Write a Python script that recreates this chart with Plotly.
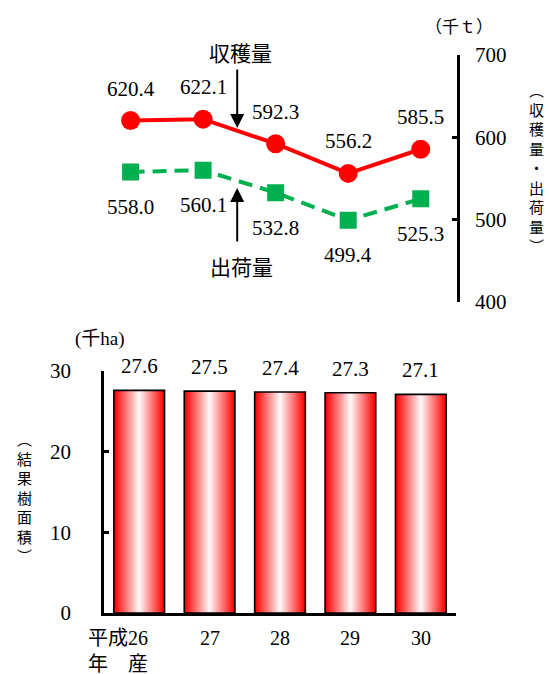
import plotly.graph_objects as go

# ---- data ----
years = ["平成26", "27", "28", "29", "30"]
harvest = [620.4, 622.1, 592.3, 556.2, 585.5]      # 収穫量 (千t)
shipment = [558.0, 560.1, 532.8, 499.4, 525.3]     # 出荷量 (千t)
area = [27.6, 27.5, 27.4, 27.3, 27.1]              # 結果樹面積 (千ha)
top_ticks = [400, 500, 600, 700]
bottom_ticks = [0, 10, 20, 30]

W, H = 549, 674
NUM = "Liberation Serif"
MIXED = "Liberation Serif, Noto Sans CJK JP"
CJK = "Noto Sans CJK JP"
RED = "#FF0000"
GREEN = "#00B050"


def px_x(p):
    return p / W


def px_y(p):
    return 1 - p / H


fig = go.Figure()

# ---- top: harvest / shipment lines ----
fig.add_trace(go.Scatter(
    x=years, y=harvest, mode="lines+markers",
    line=dict(color=RED, width=4),
    marker=dict(symbol="circle", size=19, color=RED),
    xaxis="x", yaxis="y", showlegend=False, hoverinfo="skip"))
fig.add_trace(go.Scatter(
    x=years, y=shipment, mode="lines+markers",
    line=dict(color=GREEN, width=4, dash="14px,8px"),
    marker=dict(symbol="square", size=17, color=GREEN),
    xaxis="x", yaxis="y", showlegend=False, hoverinfo="skip"))

annotations = []
for i, v in enumerate(harvest):
    annotations.append(dict(x=i, y=v, xref="x", yref="y", text=f"{v:.1f}",
                            showarrow=False, yshift=32, xanchor="center",
                            yanchor="middle",
                            font=dict(family=NUM, size=21, color="black")))
for i, v in enumerate(shipment):
    annotations.append(dict(x=i, y=v, xref="x", yref="y", text=f"{v:.1f}",
                            showarrow=False, yshift=-35, xanchor="center",
                            yanchor="middle",
                            font=dict(family=NUM, size=21, color="black")))

# series name arrows
annotations.append(dict(x=1.47, y=611.3, ax=1.47, ay=684.2, xref="x", yref="y",
                        axref="x", ayref="y", text="", showarrow=True,
                        arrowhead=2, arrowsize=1.4, arrowwidth=2, arrowcolor="black"))
annotations.append(dict(x=1.51, y=px_y(52), xref="x", yref="paper", text="収穫量",
                        showarrow=False, xanchor="center", yanchor="middle",
                        font=dict(family=CJK, size=21, color="black")))
annotations.append(dict(x=1.47, y=538.5, ax=1.47, ay=471.7, xref="x", yref="y",
                        axref="x", ayref="y", text="", showarrow=True,
                        arrowhead=2, arrowsize=1.4, arrowwidth=2, arrowcolor="black"))
annotations.append(dict(x=1.53, y=px_y(266), xref="x", yref="paper", text="出荷量",
                        showarrow=False, xanchor="center", yanchor="middle",
                        font=dict(family=CJK, size=21, color="black")))

# ---- bottom: bearing area bars with a horizontal red-white-red shading ----
N = 20
BAR_W = 0.72
for k in range(N):
    t = k / (N - 1)
    g = int(round(244 * t))
    fig.add_trace(go.Bar(
        x=years, y=area, width=BAR_W * (1 - k / N),
        marker=dict(color=f"rgb(255,{g},{g})", line=dict(width=0)),
        xaxis="x2", yaxis="y2", showlegend=False, hoverinfo="skip"))
# outline on top
fig.add_trace(go.Bar(
    x=years, y=area, width=BAR_W,
    marker=dict(color="rgba(0,0,0,0)", line=dict(color="black", width=1.6)),
    xaxis="x2", yaxis="y2", showlegend=False, hoverinfo="skip"))

for i, v in enumerate(area):
    annotations.append(dict(x=i, y=v, xref="x2", yref="y2", text=f"{v:.1f}",
                            showarrow=False, yshift=24, xanchor="center",
                            yanchor="middle",
                            font=dict(family=NUM, size=21, color="black")))

# category labels under the bars
for i, lab in enumerate(years):
    if i == 0:
        annotations.append(dict(x=i, y=px_y(625), xref="x2", yref="paper",
                                text=lab + "<br>年　産", showarrow=False,
                                xanchor="right", yanchor="top", align="left",
                                xshift=11,
                                font=dict(family=MIXED, size=20, color="black")))
    else:
        annotations.append(dict(x=i, y=px_y(625), xref="x2", yref="paper",
                                text=lab, showarrow=False,
                                xanchor="center", yanchor="top",
                                font=dict(family=NUM, size=20, color="black")))

# unit labels
annotations.append(dict(x=px_x(458.5), y=px_y(25), xref="paper", yref="paper",
                        text="（千ｔ）", showarrow=False,
                        xanchor="center", yanchor="middle",
                        font=dict(family=CJK, size=17, color="black")))
annotations.append(dict(x=px_x(100), y=px_y(339), xref="paper", yref="paper",
                        text="(千ha)", showarrow=False,
                        xanchor="center", yanchor="middle",
                        font=dict(family=MIXED, size=19, color="black")))

# vertical axis titles, one character per line
annotations.append(dict(x=px_x(536), y=px_y(168), xref="paper", yref="paper",
                        text="<br>".join("︵収穫量・出荷量︶"), showarrow=False,
                        yanchor="middle", xanchor="center", align="center",
                        font=dict(family=CJK, size=15, color="black")))
annotations.append(dict(x=px_x(24), y=px_y(497), xref="paper", yref="paper",
                        text="<br>".join("︵結果樹面積︶"), showarrow=False,
                        yanchor="middle", xanchor="center", align="center",
                        font=dict(family=CJK, size=15, color="black")))

fig.update_layout(
    width=W, height=H,
    margin=dict(l=0, r=0, t=0, b=0, autoexpand=False),
    paper_bgcolor="white", plot_bgcolor="rgba(0,0,0,0)",
    barmode="overlay", showlegend=False,
    font=dict(family=NUM, size=20, color="black"),
    annotations=annotations,
    xaxis=dict(domain=[px_x(94.3), px_x(457)], range=[-0.5, 4.5],
               type="category", anchor="y", automargin=False,
               visible=False),
    yaxis=dict(domain=[px_y(302), px_y(55)], range=[400, 700],
               side="right", anchor="x", tickvals=top_ticks, automargin=False,
               ticks="inside", ticklen=5, tickwidth=2.5, tickcolor="black",
               showline=True, linewidth=2.5, linecolor="black",
               showgrid=False, zeroline=False, ticklabelstandoff=11,
               tickfont=dict(family=NUM, size=21, color="black")),
    xaxis2=dict(domain=[px_x(104), px_x(456)], range=[-0.5, 4.5],
                type="category", anchor="y2", automargin=False,
                showline=True, linewidth=2.5, linecolor="black",
                ticks="", showticklabels=False, showgrid=False, zeroline=False),
    yaxis2=dict(domain=[px_y(613), px_y(371)], range=[0, 30],
                anchor="x2", tickvals=bottom_ticks, automargin=False,
                ticks="inside", ticklen=5, tickwidth=2.5, tickcolor="black",
                showline=True, linewidth=2.5, linecolor="black",
                showgrid=False, zeroline=False, ticklabelstandoff=26,
                tickfont=dict(family=NUM, size=21, color="black")),
)

fig.write_html("out.html")
